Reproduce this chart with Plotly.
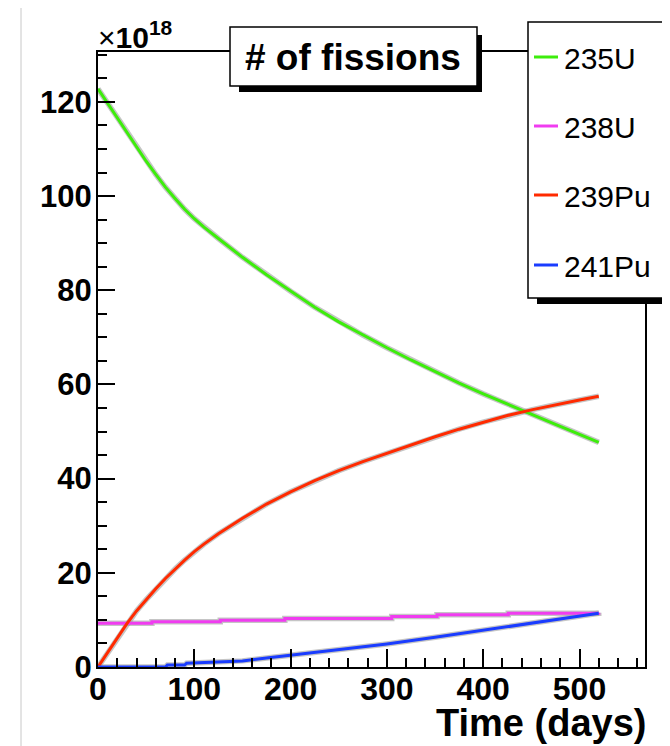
import plotly.graph_objects as go

# ---------------- data ----------------
time_days = [0, 10, 20, 30, 40, 50, 60, 70, 80, 90, 100, 110, 125, 150, 175, 200,
             225, 250, 275, 300, 325, 350, 375, 400, 425, 450, 475, 500, 520]
u235 = [122.8, 119.7, 116.6, 113.5, 110.4, 107.4, 104.6, 101.9, 99.5, 97.2, 95.2,
        93.4, 91.0, 87.0, 83.3, 79.8, 76.4, 73.3, 70.5, 67.8, 65.2, 62.7, 60.3,
        58.0, 55.8, 53.6, 51.5, 49.4, 47.7]
pu239 = [0.0, 3.0, 6.1, 9.2, 11.9, 14.3, 16.6, 18.8, 20.8, 22.7, 24.5, 26.1, 28.3,
         31.6, 34.6, 37.2, 39.6, 41.7, 43.6, 45.4, 47.2, 48.9, 50.5, 52.0, 53.4,
         54.6, 55.7, 56.7, 57.5]

u238_t = [0, 56, 127, 194, 305, 352, 426, 520]
u238 = [9.3, 9.6, 9.95, 10.3, 10.7, 11.1, 11.4, 11.5]

pu241_t = [0, 70, 72, 90, 92, 140, 150, 175, 200, 250, 300, 350, 400, 450, 500, 520]
pu241 = [0.0, 0.0, 0.4, 0.4, 0.8, 1.1, 1.3, 1.9, 2.5, 3.6, 4.9, 6.3, 7.8, 9.3, 10.8, 11.4]

series_names = ["235U", "238U", "239Pu", "241Pu"]
series_colors = ["#3ded0c", "#f03cf0", "#ff2a00", "#1a3cff"]

x_ticks = [0, 100, 200, 300, 400, 500]
y_ticks = [0, 20, 40, 60, 80, 100, 120]

# ---------------- layout helpers (page pixel -> paper) ----------------
OFF = 8                      # default body margin of the html page
PAGE_W, PAGE_H = 670, 746
W, H = PAGE_W - OFF, PAGE_H - OFF
L, R, T, B = 98, 645, 52, 667   # plot frame in page pixels


def px(x):
    return (x - L) / (R - L)


def py(y):
    return (B - y) / (B - T)


FONT = "Liberation Sans, Arial, Helvetica, sans-serif"

fig = go.Figure()

datasets = [
    (time_days, u235, "linear"),
    (u238_t, u238, "hv"),
    (time_days, pu239, "linear"),
    (pu241_t, pu241, "linear"),
]

# soft grey halo under each curve
for (xs, ys, shape) in datasets:
    fig.add_trace(go.Scatter(x=xs, y=ys, mode="lines", showlegend=False,
                             hoverinfo="skip",
                             line=dict(color="rgba(150,150,150,0.55)", width=5.5,
                                       shape=shape)))
for (xs, ys, shape), name, col in zip(datasets, series_names, series_colors):
    fig.add_trace(go.Scatter(x=xs, y=ys, mode="lines", name=name, showlegend=False,
                             line=dict(color=col, width=3, shape=shape)))

shapes = []
# outer light-grey canvas border
shapes.append(dict(type="line", xref="paper", yref="paper",
                   x0=px(21), x1=px(21), y0=py(6), y1=py(760),
                   line=dict(color="#c8c8c8", width=1), layer="above"))
shapes.append(dict(type="line", xref="paper", yref="paper",
                   x0=px(21), x1=px(700), y0=py(6), y1=py(6),
                   line=dict(color="#c8c8c8", width=1), layer="above"))

# title box with shadow
shapes.append(dict(type="rect", xref="paper", yref="paper",
                   x0=px(239), x1=px(482), y0=py(35), y1=py(92),
                   fillcolor="black", line=dict(width=0), layer="above"))
shapes.append(dict(type="rect", xref="paper", yref="paper",
                   x0=px(230), x1=px(477), y0=py(27), y1=py(86),
                   fillcolor="white", line=dict(color="black", width=1.5),
                   layer="above"))

# legend box with shadow
shapes.append(dict(type="rect", xref="paper", yref="paper",
                   x0=px(537), x1=px(720), y0=py(30), y1=py(304),
                   fillcolor="black", line=dict(width=0), layer="above"))
shapes.append(dict(type="rect", xref="paper", yref="paper",
                   x0=px(528), x1=px(715), y0=py(22), y1=py(298),
                   fillcolor="white", line=dict(color="black", width=1.5),
                   layer="above"))

legend_y = [57, 126, 195, 265]
annotations = []
for name, col, ly in zip(series_names, series_colors, legend_y):
    shapes.append(dict(type="line", xref="paper", yref="paper",
                       x0=px(534), x1=px(558), y0=py(ly), y1=py(ly),
                       line=dict(color=col, width=3), layer="above"))
    annotations.append(dict(text=name, xref="paper", yref="paper",
                            x=px(562), y=py(ly + 1), xanchor="left",
                            yanchor="middle", showarrow=False,
                            font=dict(family=FONT, size=30, color="black")))

annotations.append(dict(text="<b># of fissions</b>", xref="paper", yref="paper",
                        x=px(353), y=py(57), xanchor="center", yanchor="middle",
                        showarrow=False,
                        font=dict(family=FONT, size=37, color="black")))

annotations.append(dict(text="×<b>10</b><sup><b>18</b></sup>", xref="paper",
                        yref="paper", x=px(96), y=py(35), xanchor="left",
                        yanchor="middle", showarrow=False,
                        font=dict(family=FONT, size=30, color="black")))

annotations.append(dict(text="<b>Time (days)</b>", xref="paper", yref="paper",
                        x=px(648), y=py(723), xanchor="right", yanchor="middle",
                        showarrow=False,
                        font=dict(family=FONT, size=38, color="black")))

fig.update_layout(
    width=W, height=H, autosize=False,
    margin=dict(l=L - OFF, r=PAGE_W - R, t=T - OFF, b=PAGE_H - B, pad=0),
    paper_bgcolor="white", plot_bgcolor="white",
    showlegend=False,
    shapes=shapes, annotations=annotations,
    font=dict(family=FONT, color="black"),
)

fig.update_xaxes(range=[0, 568], tickvals=x_ticks, ticktext=[str(v) for v in x_ticks],
                 showgrid=False, zeroline=False,
                 showline=True, linecolor="black", linewidth=2, mirror=True,
                 ticks="inside", ticklen=18, tickwidth=2, tickcolor="black",
                 ticklabelstandoff=-7,
                 minor=dict(dtick=20, tick0=0, ticks="inside", ticklen=9,
                            tickwidth=2, tickcolor="black", showgrid=False),
                 tickfont=dict(family=FONT, size=32, color="black", weight="bold"))
fig.update_yaxes(range=[0, 130.6], tickvals=y_ticks, ticktext=[str(v) for v in y_ticks],
                 showgrid=False, zeroline=False,
                 showline=True, linecolor="black", linewidth=2, mirror=True,
                 ticks="inside", ticklen=17, tickwidth=2, tickcolor="black",
                 ticklabelstandoff=-2,
                 minor=dict(dtick=5, tick0=0, ticks="inside", ticklen=9,
                            tickwidth=2, tickcolor="black", showgrid=False),
                 tickfont=dict(family=FONT, size=31, color="black", weight="bold"))

fig.write_html("out.html")
